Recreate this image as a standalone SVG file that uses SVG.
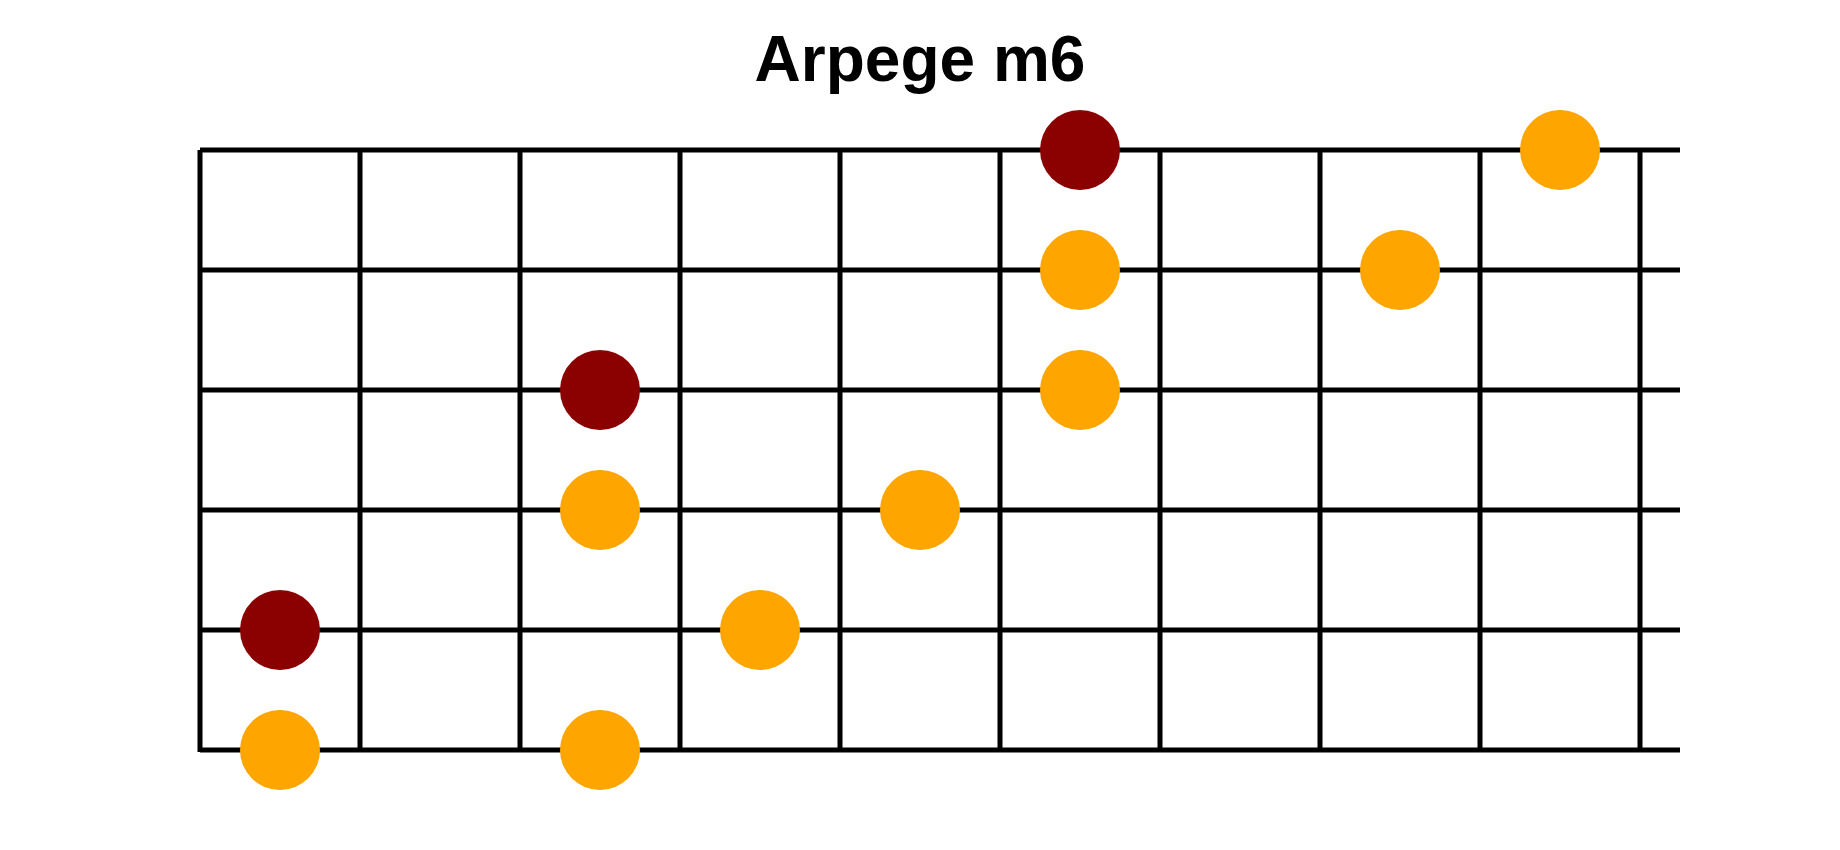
<svg xmlns="http://www.w3.org/2000/svg" width="1840" height="850" viewBox="0 0 1840 850">
<style>
.bg{fill:#ffffff}
.title{font-family:"Liberation Sans",Arial,sans-serif;font-weight:bold;font-size:64px;fill:#000;text-anchor:middle}
.str{stroke:#000;stroke-width:5;fill:none}
.fret{stroke:#000;stroke-width:5;fill:none}
.root{fill:#8B0000}
.note{fill:#FFA500}
</style>
<rect class="bg" x="0" y="0" width="1840" height="850"/>
<text id="title" class="title" x="920" y="81">Arpege m6</text>
<g id="connectors">
<g id="strings">
<line class="str" x1="200" y1="150" x2="1680" y2="150"/>
<line class="str" x1="200" y1="270" x2="1680" y2="270"/>
<line class="str" x1="200" y1="390" x2="1680" y2="390"/>
<line class="str" x1="200" y1="510" x2="1680" y2="510"/>
<line class="str" x1="200" y1="630" x2="1680" y2="630"/>
<line class="str" x1="200" y1="750" x2="1680" y2="750"/>
</g>
<g id="frets">
<line class="fret" x1="200" y1="150" x2="200" y2="752"/>
<line class="fret" x1="360" y1="150" x2="360" y2="750"/>
<line class="fret" x1="520" y1="150" x2="520" y2="750"/>
<line class="fret" x1="680" y1="150" x2="680" y2="750"/>
<line class="fret" x1="840" y1="150" x2="840" y2="750"/>
<line class="fret" x1="1000" y1="150" x2="1000" y2="750"/>
<line class="fret" x1="1160" y1="150" x2="1160" y2="750"/>
<line class="fret" x1="1320" y1="150" x2="1320" y2="750"/>
<line class="fret" x1="1480" y1="150" x2="1480" y2="750"/>
<line class="fret" x1="1640" y1="150" x2="1640" y2="750"/>
</g>
</g>
<g id="n1"><circle class="root" cx="1080" cy="150" r="40"/></g>
<g id="n2"><circle class="note" cx="1560" cy="150" r="40"/></g>
<g id="n3"><circle class="note" cx="1080" cy="270" r="40"/></g>
<g id="n4"><circle class="note" cx="1400" cy="270" r="40"/></g>
<g id="n5"><circle class="root" cx="600" cy="390" r="40"/></g>
<g id="n6"><circle class="note" cx="1080" cy="390" r="40"/></g>
<g id="n7"><circle class="note" cx="600" cy="510" r="40"/></g>
<g id="n8"><circle class="note" cx="920" cy="510" r="40"/></g>
<g id="n9"><circle class="root" cx="280" cy="630" r="40"/></g>
<g id="n10"><circle class="note" cx="760" cy="630" r="40"/></g>
<g id="n11"><circle class="note" cx="280" cy="750" r="40"/></g>
<g id="n12"><circle class="note" cx="600" cy="750" r="40"/></g>
</svg>
